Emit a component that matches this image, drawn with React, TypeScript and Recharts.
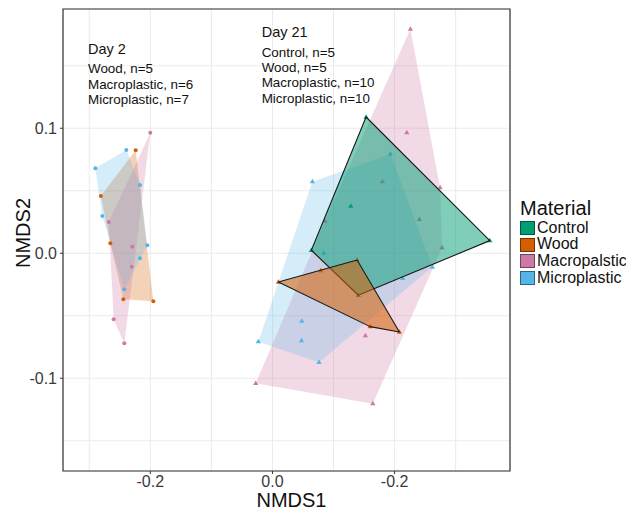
import React from "react";
import {
  ScatterChart,
  Scatter,
  XAxis,
  YAxis,
  CartesianGrid,
  ReferenceArea,
  Legend,
} from "recharts";

type Pt = { x: number; y: number };

// legend
const materials = ["Control", "Wood", "Macropalstic", "Microplastic"];
const materialColors = ["#009E73", "#D55E00", "#CC79A7", "#56B4E9"];

// Day 2 (circles)
const day2Wood: Pt[] = [
  { x: -0.224, y: 0.0824 },
  { x: -0.281, y: 0.0458 },
  { x: -0.2655, y: 0.008 },
  { x: -0.2442, y: -0.0368 },
  { x: -0.1951, y: -0.0384 },
];
const day2Macro: Pt[] = [
  { x: -0.2, y: 0.0965 },
  { x: -0.2681, y: 0.025 },
  { x: -0.2295, y: 0.0053 },
  { x: -0.2305, y: -0.0107 },
  { x: -0.26, y: -0.0528 },
  { x: -0.2426, y: -0.072 },
];
const day2Micro: Pt[] = [
  { x: -0.2393, y: 0.0826 },
  { x: -0.2901, y: 0.068 },
  { x: -0.2169, y: 0.0546 },
  { x: -0.2786, y: 0.0298 },
  { x: -0.2049, y: 0.0064 },
  { x: -0.2169, y: -0.004 },
  { x: -0.2426, y: -0.0288 },
];

// Day 21 (triangles)
const day21Control: Pt[] = [
  { x: 0.1533, y: 0.109 },
  { x: 0.3559, y: 0.0101 },
  { x: 0.1407, y: -0.0336 },
  { x: 0.0637, y: 0.0024 },
  { x: 0.1283, y: 0.0378 },
];
const day21Wood: Pt[] = [
  { x: 0.0097, y: -0.023 },
  { x: 0.0791, y: -0.0139 },
  { x: 0.1386, y: -0.0054 },
  { x: 0.2079, y: -0.063 },
  { x: 0.1599, y: -0.0587 },
];
const day21Macro: Pt[] = [
  { x: 0.2259, y: 0.1794 },
  { x: 0.22, y: 0.0965 },
  { x: 0.2745, y: 0.0525 },
  { x: 0.18, y: 0.0573 },
  { x: 0.0862, y: 0.0258 },
  { x: 0.2406, y: 0.0272 },
  { x: 0.2778, y: 0.0045 },
  { x: 0.1522, y: -0.0659 },
  { x: -0.0274, y: -0.104 },
  { x: 0.1643, y: -0.1203 },
];
const day21Micro: Pt[] = [
  { x: 0.1931, y: 0.0794 },
  { x: 0.0654, y: 0.0573 },
  { x: 0.084, y: 0.0002 },
  { x: 0.2619, y: -0.011 },
  { x: 0.2134, y: -0.02 },
  { x: 0.048, y: -0.0542 },
  { x: 0.0477, y: -0.0698 },
  { x: -0.0231, y: -0.0707 },
  { x: 0.0763, y: -0.0872 },
];

const day2Notes = ["Wood, n=5", "Macroplastic, n=6", "Microplastic, n=7"];
const day21Notes = ["Control, n=5", "Wood, n=5", "Macroplastic, n=10", "Microplastic, n=10"];

const xDomain = [-0.343, 0.389];
const yDomain = [-0.1742, 0.1954];
// grid values; labelled (major) ones get a tick mark and text
const xGrid = [-0.3, -0.2, -0.1, 0, 0.1, 0.2, 0.3];
const xTickLabels: Record<string, string> = { "-0.2": "-0.2", "0": "0.0", "0.2": "-0.2" };
const yGrid = [-0.15, -0.1, -0.05, 0, 0.05, 0.1, 0.15];
const yTickLabels: Record<string, string> = { "-0.1": "-0.1", "0": "0.0", "0.1": "0.1" };

const FONT = '"Liberation Sans", Arial, Helvetica, sans-serif';
const TICK_SIZE = 3;

// convex hull (monotone chain), done in data space
function hull(pts: Pt[]): Pt[] {
  const p = [...pts].sort((a, b) => a.x - b.x || a.y - b.y);
  const cross = (o: Pt, a: Pt, b: Pt) => (a.x - o.x) * (b.y - o.y) - (a.y - o.y) * (b.x - o.x);
  const lower: Pt[] = [];
  for (const q of p) {
    while (lower.length >= 2 && cross(lower[lower.length - 2], lower[lower.length - 1], q) <= 0) lower.pop();
    lower.push(q);
  }
  const upper: Pt[] = [];
  for (const q of [...p].reverse()) {
    while (upper.length >= 2 && cross(upper[upper.length - 2], upper[upper.length - 1], q) <= 0) upper.pop();
    upper.push(q);
  }
  return lower.slice(0, -1).concat(upper.slice(0, -1));
}

function hullSeries(key: string, pts: Pt[], color: string, opacity: number, outline: boolean) {
  return (
    <Scatter
      key={key}
      data={hull(pts)}
      fill={color}
      isAnimationActive={false}
      legendType="none"
      lineType="joint"
      shape={() => <g />}
      line={(p: any) => {
        const ps: { x: number; y: number }[] = p.points || [];
        if (!ps.length) return <g />;
        const d = "M" + ps.map((q) => `${q.x},${q.y}`).join("L") + "Z";
        return (
          <path
            d={d}
            fill={color}
            fillOpacity={opacity}
            stroke={outline ? "#1a1a1a" : "none"}
            strokeWidth={outline ? 1.1 : 0}
            strokeLinejoin="round"
          />
        );
      }}
    />
  );
}

function pointSeries(key: string, pts: Pt[], color: string, triangle: boolean) {
  return (
    <Scatter
      key={key}
      data={pts}
      fill={color}
      isAnimationActive={false}
      legendType="none"
      shape={(p: any) =>
        triangle ? (
          <path
            d={`M${p.cx},${p.cy - 2.8}L${p.cx + 2.6},${p.cy + 1.7}L${p.cx - 2.6},${p.cy + 1.7}Z`}
            fill={color}
          />
        ) : (
          <circle cx={p.cx} cy={p.cy} r={2} fill={color} />
        )
      }
    />
  );
}

function labelFor(map: Record<string, string>, v: number) {
  return map[String(Math.round(v * 100) / 100)];
}

function XTick(props: any) {
  const { x, y, payload } = props;
  const text = labelFor(xTickLabels, payload.value);
  if (!text) return <g />;
  const y0 = y - TICK_SIZE - 2;
  return (
    <g>
      <line x1={x} x2={x} y1={y0} y2={y0 + TICK_SIZE} stroke="#333" />
      <text x={x} y={y} dy="0.71em" textAnchor="middle" fontSize={16} fill="#3a3a3a" fontFamily={FONT}>
        {text}
      </text>
    </g>
  );
}

function YTick(props: any) {
  const { x, y, payload } = props;
  const text = labelFor(yTickLabels, payload.value);
  if (!text) return <g />;
  const x0 = x + TICK_SIZE + 3;
  return (
    <g>
      <line x1={x0 - TICK_SIZE} x2={x0} y1={y} y2={y} stroke="#333" />
      <text x={x} y={y} dy="0.355em" textAnchor="end" fontSize={16} fill="#3a3a3a" fontFamily={FONT}>
        {text}
      </text>
    </g>
  );
}

function MaterialLegend() {
  return (
    <div style={{ fontFamily: FONT, color: "#111" }}>
      <div style={{ fontSize: 20, lineHeight: "20px", height: 20, marginBottom: 1.5 }}>Material</div>
      {materials.map((m, i) => (
        <div key={m} style={{ display: "flex", alignItems: "center", height: 16.7 }}>
          <div
            style={{
              width: 15,
              height: 14,
              boxSizing: "border-box",
              background: materialColors[i],
              border: "1px solid rgba(0,0,0,0.45)",
              marginRight: 2,
            }}
          />
          <span style={{ fontSize: 16, lineHeight: "16.7px", whiteSpace: "nowrap" }}>{m}</span>
        </div>
      ))}
    </div>
  );
}

export default function App() {
  const [cCtrl, cWood, cMacro, cMicro] = materialColors;
  return (
    <div style={{ position: "relative", width: 626, height: 502, fontFamily: FONT }}>
      <ScatterChart width={626} height={502} margin={{ top: 1, right: 124, bottom: 0, left: 0 }}>
        <CartesianGrid stroke="#ebebeb" strokeWidth={1} />
        <XAxis
          type="number"
          dataKey="x"
          domain={xDomain}
          ticks={xGrid}
          interval={0}
          allowDataOverflow
          height={39}
          axisLine={false}
          tickLine={false}
          tickSize={TICK_SIZE}
          tickMargin={2}
          tick={<XTick />}
          label={{ value: "NMDS1", position: "insideBottom", offset: 3, dx: 5, fontSize: 20, fill: "#111", fontFamily: FONT }}
        />
        <YAxis
          type="number"
          dataKey="y"
          domain={yDomain}
          ticks={yGrid}
          interval={0}
          allowDataOverflow
          width={55}
          axisLine={false}
          tickLine={false}
          tickSize={TICK_SIZE}
          tickMargin={3}
          tick={<YTick />}
          label={(props: any) => {
            const vb = props.viewBox || { x: 0, y: 1, width: 55, height: 462 };
            const cx = vb.x + 15;
            const cy = vb.y + vb.height / 2 - 7;
            return (
              <text
                x={cx}
                y={cy}
                transform={`rotate(-90, ${cx}, ${cy})`}
                textAnchor="middle"
                dominantBaseline="central"
                fontSize={20}
                fill="#111"
                fontFamily={FONT}
              >
                NMDS2
              </text>
            );
          }}
        />
        <ReferenceArea
          x1={xDomain[0]}
          x2={xDomain[1]}
          y1={yDomain[0]}
          y2={yDomain[1]}
          fill="none"
          fillOpacity={0}
          stroke="#333"
          strokeWidth={1.2}
          ifOverflow="visible"
        />
        {hullSeries("h2w", day2Wood, cWood, 0.28, false)}
        {hullSeries("h2m", day2Macro, cMacro, 0.28, false)}
        {hullSeries("h2u", day2Micro, cMicro, 0.25, false)}
        {hullSeries("h21m", day21Macro, cMacro, 0.28, false)}
        {hullSeries("h21u", day21Micro, cMicro, 0.25, false)}
        {pointSeries("p2w", day2Wood, cWood, false)}
        {pointSeries("p2m", day2Macro, cMacro, false)}
        {pointSeries("p2u", day2Micro, cMicro, false)}
        {pointSeries("p21m", day21Macro, cMacro, true)}
        {pointSeries("p21u", day21Micro, cMicro, true)}
        {pointSeries("p21c", day21Control, cCtrl, true)}
        {pointSeries("p21w", day21Wood, cWood, true)}
        {hullSeries("h21c", day21Control, cCtrl, 0.5, true)}
        {hullSeries("h21w", day21Wood, cWood, 0.55, true)}
        <Legend
          layout="vertical"
          align="center"
          verticalAlign="middle"
          wrapperStyle={{ left: 512, top: 190, width: 114 }}
          content={() => <MaterialLegend />}
        />
      </ScatterChart>
      <svg
        width={626}
        height={502}
        style={{ position: "absolute", left: 0, top: 0, pointerEvents: "none" }}
        fontFamily={FONT}
      >
        <text x={80} y={46} fontSize={14.5} fill="#111">Day 2</text>
        {day2Notes.map((t, i) => (
          <text key={t} x={80} y={65.3 + i * 15.35} fontSize={13.4} fill="#111">
            {t}
          </text>
        ))}
        <text x={253.7} y={28.7} fontSize={14.5} fill="#111">Day 21</text>
        {day21Notes.map((t, i) => (
          <text key={t} x={253.7} y={48.7 + i * 15.33} fontSize={13.4} fill="#111">
            {t}
          </text>
        ))}
      </svg>
    </div>
  );
}
